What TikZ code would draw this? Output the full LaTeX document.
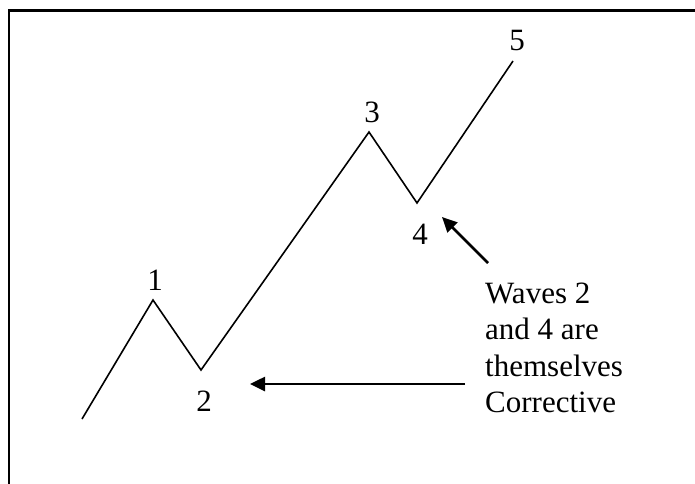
\documentclass[tikz,border=0pt]{standalone}
\usepackage{fontspec}
\setmainfont{Liberation Serif}
\usetikzlibrary{arrows.meta}
\begin{document}
\begin{tikzpicture}[x=1pt,y=-1pt,
  wave/.style={line width=1.6pt,line join=miter},
  lbl/.style={anchor=base,inner sep=0pt,font=\fontsize{31}{36.5}\selectfont},
  pointer/.style={line width=2.6pt,-{Triangle[length=15pt,width=14pt]}}]
\useasboundingbox (0,0) rectangle (695,483);
\begin{scope}
\clip (0,0) rectangle (695,483);
\draw[line width=2.6pt] (9,520) -- (9,10.5) -- (720,10.5);
\end{scope}
\coordinate (w0) at (82,419);
\coordinate (w1) at (153,300);
\coordinate (w2) at (201,370);
\coordinate (w3) at (369,132);
\coordinate (w4) at (417,203);
\coordinate (w5) at (513,61);
\draw[wave] (w0) -- (w1) -- (w2) -- (w3) -- (w4) -- (w5);
\node[lbl] (l1) at (155,290) {1};
\node[lbl] (l2) at (204,411) {2};
\node[lbl] (l3) at (372,122) {3};
\node[lbl] (l4) at (420,244) {4};
\node[lbl] (l5) at (517,50) {5};
\node[anchor=north west,inner sep=0pt,align=left,font=\fontsize{31}{36.5}\selectfont] (note) at (485,282.5)
  {Waves 2\\and 4 are\\themselves\\Corrective};
\coordinate (a1s) at (488,263);
\coordinate (a1e) at (442,217);
\coordinate (a2s) at (465,384);
\coordinate (a2e) at (250,384);
\draw[pointer] (a1s) -- (a1e);
\draw[pointer] (a2s) -- (a2e);
\end{tikzpicture}
\end{document}
